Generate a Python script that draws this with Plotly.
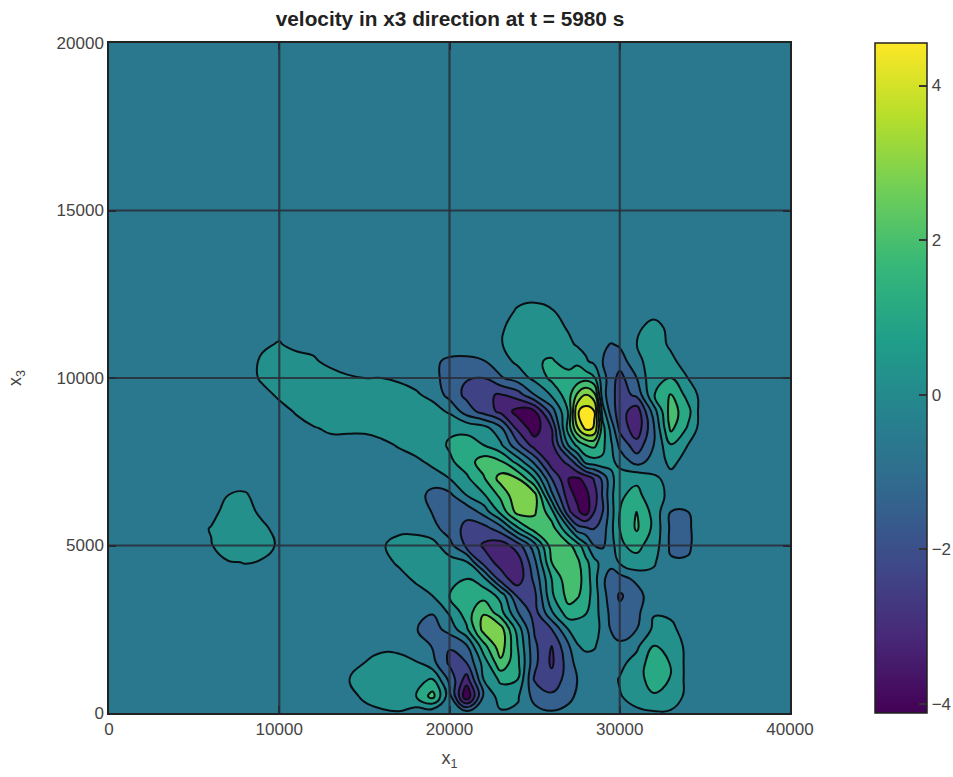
import plotly.graph_objects as go

# x positions of the read grid, x3 positions of the read grid
x_core = [5000 + 1000 * i for i in range(31)]
y_grid = [500 * i for i in range(26)] + [20000]

# velocity, one row per x3 value (bottom row first), columns x1 = 5000..35000
v_rows = [
 #5   6   7   8   9   10  11  12  13  14  15  16  17  18  19   20   21   22   23   24   25   26   27   28   29   30   31   32   33   34  35
 [0,  0,  0,  0,  0,  0,  0,  0,  0,  0,  0,  .1, .15,-.2,-.4, 0,  -.2,  0,   .1,  .05,-.3, -.5, -.3,  0,   0,   0,   .05, .1,  .1,  0,  0],
 [0,  0,  0,  0,  0,  0,  0,  0,  0,  0,  .3, .5, .65,.95,2.1,-.3,-3.7,-.5,  .55, .3, -.9,-1.25,-.85,-.05, 0,   .15, .5,  .9,  .65, 0,  0],
 [0,  0,  0,  0,  0,  0,  0,  0,  0,  .15,.55,.65,.7, .85,1.05,-.8,-2.6,.2,  1.15,1.0,-1.5,-1.9,-1.05,-.05,0,   .25, .65, 1.4, .95,-.05,0],
 [0,  0,  0,  0,  0,  0,  0,  0,  0, -.1, .2, .5, .45,.25,-.35,-1.55,-1.4,.5, 2.4, 1.2,-1.2,-2.35,-1.0,-.1, 0,   0,   .5,  1.5, .95,-.05,0],
 [0,  0,  0,  0,  0,  0,  0,  0,  0,  0,  0,  0,  0, -.05,-.65,-1.35,-.7,1.5, 3.1, 1.0,-1.25,-2.2,-.7, .35, 0,  -.45, .05, 1.05,.8, -.05,0],
 [0,  0,  0,  0,  0,  0,  0,  0,  0,  0,  0,  0,  0, -.55,-.95,-.3, .85,2.9, 3.0, .65,-1.5,-1.4, .25, .75, .1, -.95,-.6,  .35, .3,  0,  0],
 [0,  0,  0,  0,  0,  0,  0,  0,  0,  0,  0,  0,  0, -.6,-.55, .3, 1.4, 2.55,1.3,-.55,-1.75,.1, 1.5, 1.05,-.1,-1.2,-.8,  .15, .12, 0,  0],
 [0,  0,  0,  0,  0,  0,  0,  0,  0,  0,  0,  0,  0, -.1, .2, 1.0, 1.5, 1.5, .8,-1.5,-1.6, .85,2.1, 1.45,-.3,-1.5,-1.0, 0,   0,   0,  0],
 [0,  0,  0,  0,  0,  0,  0,  0,  0,  0,  0, -.1,-.05,.3, .6, 1.0, 1.0, .5,-1.8,-2.65,-1.2,1.0, 2.4, 1.5,-.45,-.95,-.4,-.05, 0,   0,  0],
 [0,  0,  .15,.22,.1, 0,  0,  0,  0,  0,  0, -.05,.3, .55,.6, .5,  .3,-1.75,-2.5,-2.65,-.8,1.8, 2.4, 1.25,-.1, .3,  .75, .3, -.5, -.5, 0],
 [0,  .15,.7, .8, .6, .05,0,  0,  0,  0,  0,  .1, .5, .55,.5,-.3,-1.6,-2.3,-2.65,-1.8,-.1,2.2, 2.0, .4, -.7,  .9, 1.2,  .65,-.75,-.75,0],
 [-.1,.25,.7, .75,.4,-.1, 0,  0,  0,  0,  0,  0,  0,  0, -.3,-1.0,-1.6,-1.75,-1.0,.8, 2.2, 2.2, .3,-1.2,-1.0, 1.0, 1.9,  .8, -.75,-.75,0],
 [0, -.05,.5, .55,0,  0,  0,  0,  0,  0,  0,  0,  0,  0, -.65,-1.15,-1.2,-.3,1.2, 2.9, 2.7, 1.3,-2.0,-3.4,-1.4, 1.0, 1.85, .7, -.62,-.62,0],
 [0,  0,  .2, .25,0,  0,  0,  0,  0,  0,  0,  0,  0, -.1,-.95,-.8, .2,  .9, 2.0, 3.2, 2.9,-.4,-2.7,-3.2,-1.3, .9,  1.2,  .55, 0,   0,  0],
 [0,  0,  0,  0,  0,  0,  0,  0,  0,  0,  0,  0,  0,  0, -.1, .2,  .85,1.7, 2.9, 2.6, 1.0,-1.4,-3.0,-2.8,-1.2, .65, .85, .35,-.05, 0,  0],
 [0,  0,  0,  0,  0,  0,  0,  0,  0,  0,  0,  0, -.05,.05,.35,.85,1.4, 2.2, 1.9, .7, -.8,-2.7,-2.0, .5,  .85,-.1, -.9, -.3,  .4, -.1, 0],
 [0,  0,  0,  0,  0,  0,  0,  0,  0,  0,  0,  .05,.25,.5, .6, 1.1, 1.3, 1.0, .35,-1.2,-2.6,-2.5, .3, 1.8, 1.2,-.8,-1.9, -.6,  .95, .2,-.15],
 [0,  0,  0,  0,  0,  0,  0,  .15,.3, .3, .3, .45,.6, .75,.75,.85, .8,  .55,-.4,-2.4,-3.4,-2.2, 1.4, 4.4, 1.3,-1.6,-2.75,-.7, 2.0, .9, -.4],
 [0,  0,  0,  0,  0,  0,  .25,.55,.7, .75,.8, .8, .75,.7, .5,  .1,-1.0,-1.7,-2.4,-3.3,-3.1,-1.0, 1.1, 4.6, .6, -1.8,-2.7, -.2, 2.2, 1.3,-.55],
 [0,  0,  0,  0,  0,  .3, .6, .7, .7, .65,.65,.6, .5, .3,  0, -.9,-1.6,-2.1,-2.25,-1.8,-.6, .3, 1.5, 3.4,-.3, -1.8,-1.2,  .95,1.9, .7, -.2],
 [0,  0,  0, -.1, .3, .6, .7, .65,.5, .25,.2, .2, .1,-.05,-.3,-1.0,-1.35,-1.4,-.7,-.2, .4, 1.2, 1.2, 1.5,-.3, -1.7,-.6,  .9, 1.0, .2,  0],
 [0,  0,  0, -.1, .3, .5, .5, .3,  0,  0,  0,  0,  0,  0, -.4,-.8,-.85,-.65,-.1, .35, .95,1.05,.8,  .3,-.6, -1.0,-.05, .65, .35,-.1, 0],
 [0,  0,  0,  0,  .1, .25,0,  0,  0,  0,  0,  0,  0,  0,  0,  0,  0,  0,   .15, .55, .85, .8,  .4,  0, -.45,-.5,  .2,  .5,  .1,  0,  0],
 [0,  0,  0,  0,  0,  0,  0,  0,  0,  0,  0,  0,  0,  0,  0,  0,  0,  0,   .1,  .5,  .8,  .6,  .1,  0,  0,   0,   .1,  .4,  .05, 0,  0],
 [0,  0,  0,  0,  0,  0,  0,  0,  0,  0,  0,  0,  0,  0,  0,  0,  0,  0,  -.2,  .3,  .7,  .25,-.1,  0,  0,   0,   0,   0,   0,   0,  0],
 [0,  0,  0,  0,  0,  0,  0,  0,  0,  0,  0,  0,  0,  0,  0,  0,  0,  0,   0,  -.1, -.3, -.1,  0,   0,  0,   0,   0,   0,   0,   0,  0],
]
# extra half-step columns read around the sharp peak (bottom row first)
col_27500 = [-.2,-.45,-.6,-.3,.15,.5,1.3,1.9,2.1,2.0,1.4,-1.0,-2.8,-3.2,-3.1,-.9,1.2,3.3,4.1,2.7,1.3,.9,.1,0,0,0]
col_28500 = [0,0,0,0,.25,.35,.5,.6,.5,.45,-.6,-1.4,-2.2,-2.6,-2.1,.7,2.0,4.15,4.25,2.9,1.1,0,0,0,0,0]
col_29500 = [0,0,0,0,-.1,-.7,-.85,-1.0,-1.0,-.35,-.2,0,-.1,0,0,.4,.3,-.1,-1.0,-1.1,-1.0,-.75,-.65,0,0,0]
top_row = [0] * 34

x_ticks = [0, 10000, 20000, 30000, 40000]
y_ticks = [0, 5000, 10000, 15000, 20000]
cbar_ticks = [-4, -2, 0, 2, 4]
cbar_range = [-4.12, 4.55]
level_start, level_end, level_step = -3.0, 4.2, 0.8

extra = {27500: col_27500, 28500: col_28500, 29500: col_29500}
x_all = sorted(x_core + list(extra))
z = []
for j, r in enumerate(v_rows):
    by_x = dict(zip(x_core, r))
    for k, col in extra.items():
        by_x[k] = col[j]
    z.append([0, 0] + [by_x[k] for k in x_all] + [0, 0])
z.append([0, 0] + top_row + [0, 0])
x_grid = [0, 4000] + x_all + [36000, 40000]

FONT = "Liberation Sans"
GRID = "rgba(40,46,56,0.85)"

fig = go.Figure()
fig.add_trace(go.Contour(
    x=x_grid, y=y_grid, z=z,
    colorscale="Viridis", zmin=level_start - level_step / 2, zmax=level_end + level_step / 2,
    autocontour=False,
    contours=dict(start=level_start, end=level_end, size=level_step, coloring="fill"),
    line=dict(color="#0a0f14", width=2, smoothing=1.3),
    showscale=False, hoverinfo="skip",
))
# the colour bar is a smooth viridis ramp in the reference
fig.add_trace(go.Scatter(
    x=[None, None], y=[None, None], mode="markers", hoverinfo="skip", showlegend=False,
    marker=dict(color=cbar_range, cmin=cbar_range[0], cmax=cbar_range[1], colorscale="Viridis",
                showscale=True,
                colorbar=dict(xref="container", x=875 / 953, xanchor="left", xpad=0, ypad=0,
                              y=0.5, yanchor="middle", len=1, lenmode="fraction",
                              thickness=52, thicknessmode="pixels",
                              outlinecolor="#222", outlinewidth=1.5,
                              tickvals=cbar_ticks, ticks="inside", ticklen=8,
                              tickcolor="#333", tickwidth=1.5,
                              tickfont=dict(family=FONT, size=17, color="#444"))),
))

shapes = []
for t in x_ticks[1:-1]:
    shapes.append(dict(type="line", xref="x", yref="paper", x0=t, x1=t, y0=0, y1=1,
                       layer="above", line=dict(color=GRID, width=2.2)))
for t in y_ticks[1:-1]:
    shapes.append(dict(type="line", xref="paper", yref="y", x0=0, x1=1, y0=t, y1=t,
                       layer="above", line=dict(color=GRID, width=2.2)))

axis = dict(showgrid=False, zeroline=False, showline=True, linecolor="#222", linewidth=1.5,
            mirror="ticks", ticks="inside", ticklen=7, tickcolor="#222", tickwidth=1.5,
            tickformat="d", tickfont=dict(family=FONT, size=17, color="#444"))

fig.update_layout(
    width=953, height=777, autosize=False,
    margin=dict(l=109, r=163, t=43, b=62),
    paper_bgcolor="white", plot_bgcolor="white", showlegend=False, shapes=shapes,
    title=dict(text="<b>velocity in x3 direction at t = 5980 s</b>", x=450 / 953, xanchor="center",
               y=1 - 19 / 777, yanchor="middle",
               font=dict(family=FONT, size=20.8, color="#222")),
    xaxis=dict(axis, range=[0, 40000], tickvals=x_ticks,
               title=dict(text="x<sub>1</sub>", font=dict(family=FONT, size=18, color="#444"), standoff=13)),
    yaxis=dict(axis, range=[0, 20000], tickvals=y_ticks,
               title=dict(text="x<sub>3</sub>", font=dict(family=FONT, size=18, color="#444"), standoff=30)),
)
fig.write_html("out.html", config={"displayModeBar": False},
               post_script="document.body.style.margin='0';document.documentElement.style.overflow='hidden';")
